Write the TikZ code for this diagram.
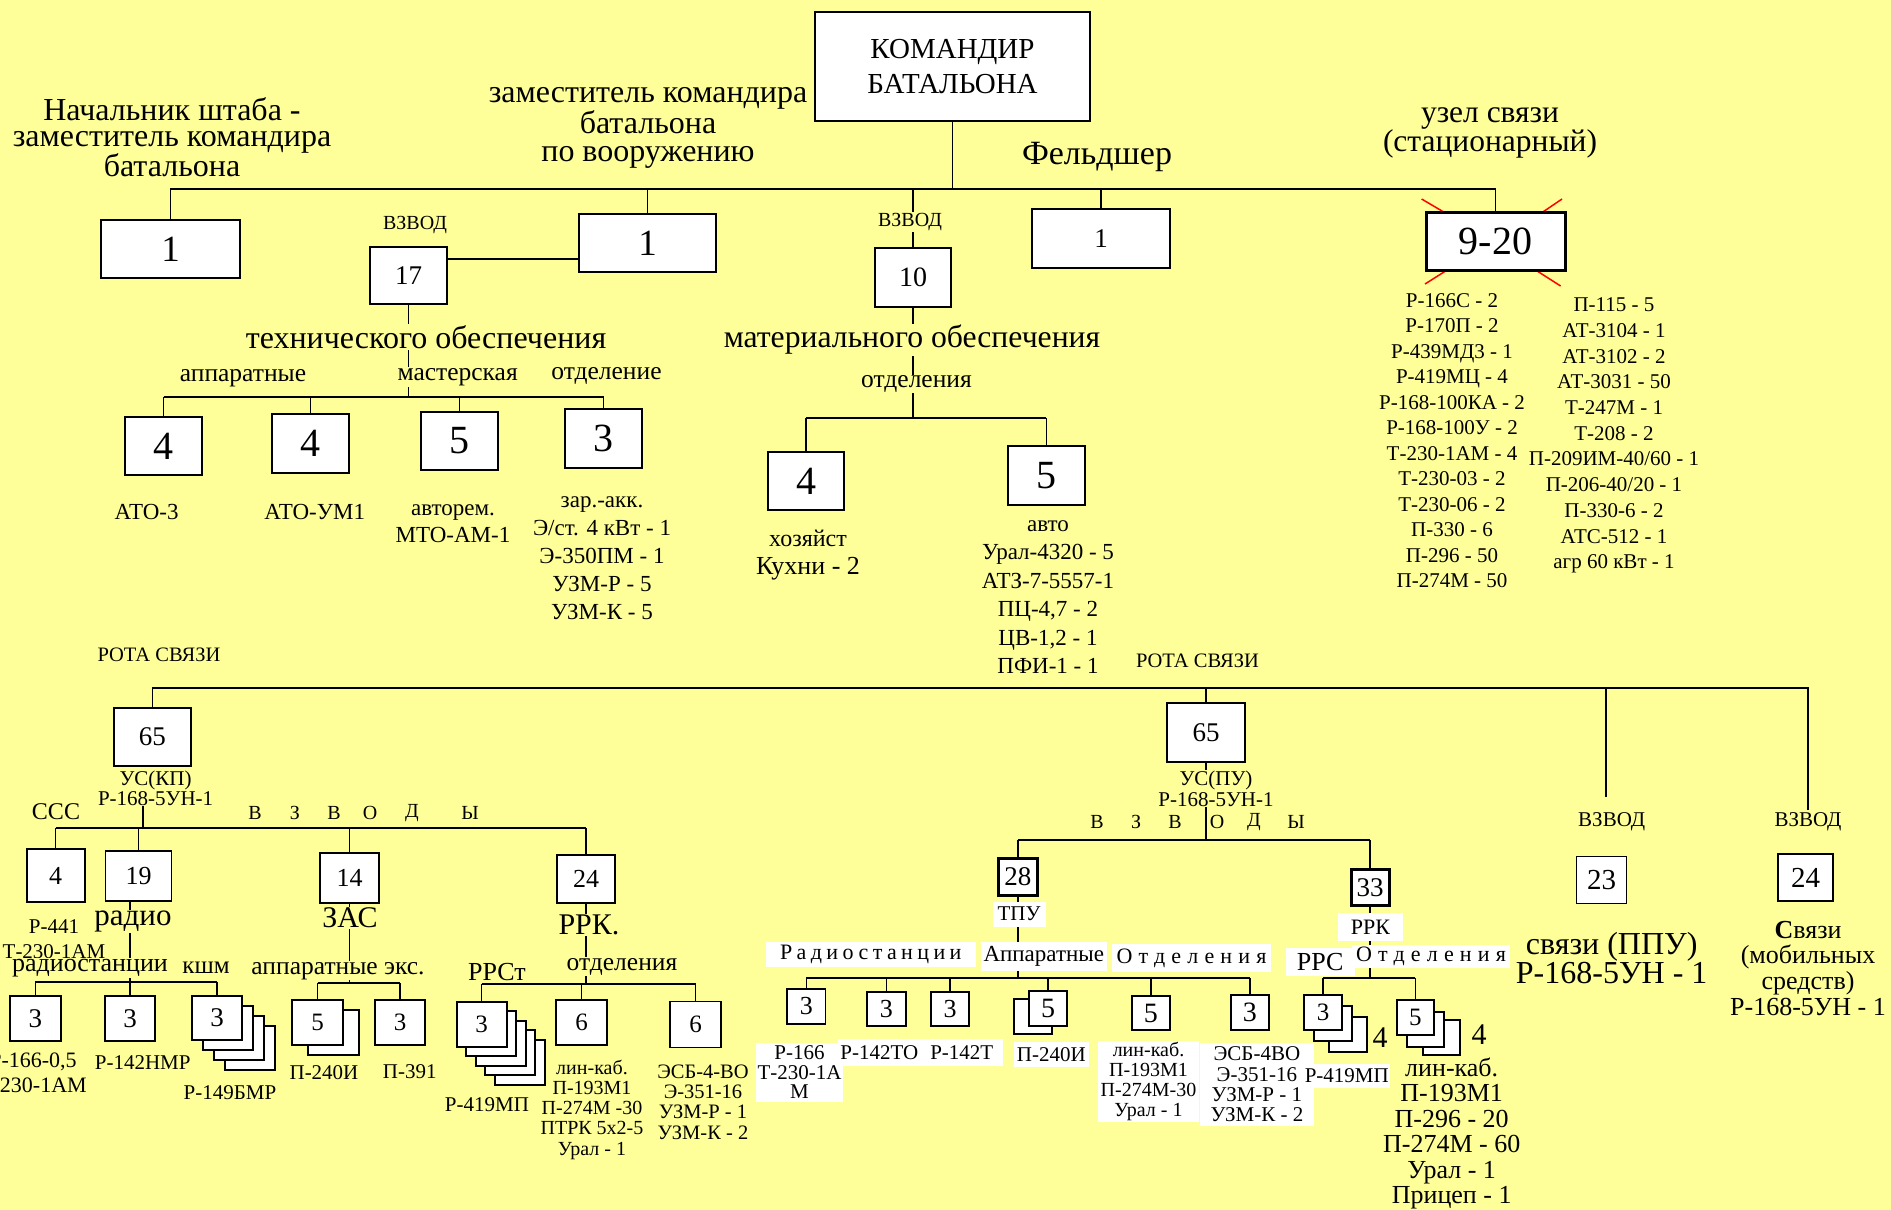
\documentclass[tikz,border=0pt]{standalone}
\usepackage{fontspec}
\setmainfont{Liberation Serif}
\newfontfamily\radfont[LetterSpace=20]{Liberation Serif}
\newfontfamily\otdfont[LetterSpace=28]{Liberation Serif}
\usetikzlibrary{positioning}
\definecolor{sfondo}{RGB}{255,255,153}

\begin{document}
\begin{tikzpicture}[x=1pt,y=-1pt,line width=1.6pt]

% definizione degli stili
\tikzset{fnt/.style 2 args={font=\fontsize{#1}{#2}\selectfont}}
\tikzset{mybox/.style={rectangle,draw,fill=white,line width=1.8pt,inner sep=0pt,align=center}}
\tikzset{wh/.style 2 args={minimum width=#1pt,minimum height=#2pt}}
\tikzset{testo/.style={inner sep=0pt,align=center}}
\tikzset{sopra/.style={testo,fill=sfondo,inner sep=1pt}}
\tikzset{bianco/.style={testo,fill=white}}

% sfondo
\fill[sfondo] (0,0) rectangle (1891,1210);
\useasboundingbox (0,0) rectangle (1891,1210);

% segni rossi dietro il nodo
\draw[red,line width=1.5pt] (1421.6,199) -- (1450.5,216);
\draw[red,line width=1.5pt] (1562,199) -- (1534,218);
\draw[red,line width=1.5pt] (1453.5,266) -- (1425,284);
\draw[red,line width=1.5pt] (1534,269) -- (1560.6,286);

% comandante e primo livello
\node[mybox,wh={275}{109},fnt={29}{35}] (cmd) at (952.5,66.5) {КОМАНДИР\\БАТАЛЬОНА};
\node[mybox,wh={139}{58},fnt={37}{37}] (nsh) at (170.5,249) {1};
\node[mybox,wh={137}{58},fnt={37}{37}] (zamv) at (647.5,243) {1};
\node[mybox,wh={138}{59},fnt={27}{27}] (feld) at (1101,238.5) {1};
\node[mybox,wh={139}{58},fnt={40}{40},line width=3pt] (uzel) at (1495.5,241) {9-20};
\node[mybox,wh={77}{57},fnt={27}{27}] (vto) at (408.5,275.5) {17};
\node[mybox,wh={76}{59},fnt={28}{28}] (vmo) at (913,277.5) {10};

\coordinate (bus1) at (170.5,189);
\draw (nsh.north) -- (bus1) -- (uzel.north |- bus1) -- (uzel.north);
\draw (cmd.south) -- (cmd.south |- bus1);
\foreach \n in {zamv,vmo,feld}
\draw (\n.north) -- (\n.north |- bus1);
\draw ([yshift=16.5pt]vto.east) -- ([yshift=16.5pt]vto.east -| zamv.west);

\node[testo,fnt={32}{25.5}] (nshtxt) at (172,137.5) {Начальник штаба -\\заместитель командира\\батальона};
\node[testo,fnt={32}{28.5}] (zamtxt) at (648,128) {заместитель командира\\батальона\\по вооружению};
\node[testo,fnt={34}{34}] (feldtxt) at (1097,157) {Фельдшер};
\node[testo,fnt={31.5}{29}] (uzeltxt) at (1490,132.5) {узел связи\\(стационарный)};
\node[testo,fnt={20}{20}] (vzv1) at (415,225) {ВЗВОД};
\node[sopra,fnt={20}{20}] (vzv2) at (910,222) {ВЗВОД};

% взвод технического обеспечения
\node[mybox,wh={77}{58},fnt={40}{40}] (t1) at (163.5,446) {4};
\node[mybox,wh={77}{59},fnt={40}{40}] (t2) at (310.5,443.5) {4};
\node[mybox,wh={77}{58},fnt={40}{40}] (t3) at (459.5,441) {5};
\node[mybox,wh={77}{59},fnt={40}{40}] (t4) at (603.5,438.5) {3};
\coordinate (bus2) at (408.5,397);
\draw (vto.south) -- (bus2);
\node[sopra,fnt={32}{32}] (tolab) at (426,337) {технического обеспечения};
\node[sopra,fnt={25.5}{25.5}] (mast) at (457.6,377) {мастерская};
\node[testo,fnt={25.5}{25.5}] (apl) at (243,378) {аппаратные};
\node[testo,fnt={25.5}{25.5}] (otdl) at (606.5,376) {отделение};
\draw (t1.north |- bus2) -- (t4.north |- bus2);
\foreach \n in {t1,t2,t3,t4}
\draw (\n.north) -- (\n.north |- bus2);

\node[testo,fnt={23}{23}] (ato3) at (146.6,512) {АТО-3};
\node[testo,fnt={23}{23}] (atoum) at (314.7,512) {АТО-УМ1};
\node[testo,fnt={23}{27}] (mto) at (453,523.5) {авторем.\\МТО-АМ-1};
\node[testo,fnt={23}{28}] (zar) at (602,558) {зар.-акк.\\Э/ст. 4 кВт - 1\\Э-350ПМ - 1\\УЗМ-Р - 5\\УЗМ-К - 5};

% взвод материального обеспечения
\node[mybox,wh={76}{58},fnt={40}{40}] (m1) at (806,481) {4};
\node[mybox,wh={77}{59},fnt={40}{40}] (m2) at (1046.3,475.5) {5};
\coordinate (bus3) at (913,418);
\draw (vmo.south) -- (bus3);
\node[sopra,fnt={31.7}{31.7}] (molab) at (912,340) {материального обеспечения};
\node[sopra,fnt={25.5}{25.5}] (motd) at (916.5,384) {отделения};
\draw (m1.north |- bus3) -- (m2.north |- bus3);
\foreach \n in {m1,m2}
\draw (\n.north) -- (\n.north |- bus3);
\node[testo,fnt={24}{24}] (hoz) at (808,538) {хозяйст};
\node[testo,fnt={26}{26}] (kuh) at (808,569) {Кухни - 2};
\node[testo,fnt={23}{28.4}] (avto) at (1048,597) {авто\\Урал-4320 - 5\\АТЗ-7-5557-1\\ПЦ-4,7 - 2\\ЦВ-1,2 - 1\\ПФИ-1 - 1};

% средства узла связи
\node[testo,fnt={21}{25.5}] (lista1) at (1452,440.5) {Р-166С - 2\\Р-170П - 2\\Р-439МД3 - 1\\Р-419МЦ - 4\\Р-168-100КА - 2\\Р-168-100У - 2\\Т-230-1АМ - 4\\Т-230-03 - 2\\Т-230-06 - 2\\П-330 - 6\\П-296 - 50\\П-274М - 50};
\node[testo,fnt={21}{25.7}] (lista2) at (1614,435.5) {П-115 - 5\\АТ-3104 - 1\\АТ-3102 - 2\\АТ-3031 - 50\\Т-247М - 1\\Т-208 - 2\\П-209ИМ-40/60 - 1\\П-206-40/20 - 1\\П-330-6 - 2\\АТС-512 - 1\\агр 60 кВт - 1};

% роты связи
\node[testo,fnt={20.5}{20.5}] (rota1) at (159,655) {РОТА СВЯЗИ};
\node[testo,fnt={20.5}{20.5}] (rota2) at (1197.5,661) {РОТА СВЯЗИ};
\node[mybox,wh={77}{58},fnt={27}{27}] (r1) at (152.4,737) {65};
\node[mybox,wh={78}{59},fnt={27}{27}] (r2) at (1206,732.5) {65};
\coordinate (bus4) at (152.4,688);
\coordinate (v23) at (1606,797);
\coordinate (v24) at (1808,810);
\draw (r1.north) -- (bus4) -- (v24 |- bus4) -- (v24);
\draw (r2.north) -- (r2.north |- bus4);
\draw (v23 |- bus4) -- (v23);

% УС(КП)
\node[testo,fnt={21}{17}] (uskp) at (155.6,788.5) {УС(КП)\\Р-168-5УН-1};
\coordinate (bus5) at (143,827.7);
\draw (bus5 |- uskp.south) -- (bus5);
\node[mybox,wh={58}{53},fnt={26}{26}] (c1) at (55.6,875.5) {4};
\node[mybox,wh={66}{50},fnt={26}{26}] (c2) at (138.5,875.7) {19};
\node[mybox,wh={59}{50},fnt={26}{26}] (c3) at (349.5,878) {14};
\node[mybox,wh={58}{48},fnt={26}{26}] (c4) at (586,879) {24};
\draw (c1.north |- bus5) -- (c4.north |- bus5);
\foreach \n in {c1,c2,c3,c4}
\draw (\n.north) -- (\n.north |- bus5);
\node[testo,fnt={24}{24}] (sss) at (56,812) {ССС};
\foreach \x/\l in {255/В,295/З,334/В,370/О,412/Д,470/Ы}
\node[testo,fnt={20}{20}] (vza\x) at (\x,813) {\l};
\node[testo,fnt={21}{25}] (r441) at (54,939.2) {Р-441\\Т-230-1АМ};

% радио
\node[mybox,wh={51}{45},fnt={27}{27}] (k1) at (35.3,1018.3) {3};
\node[mybox,wh={50}{45},fnt={27}{27}] (k2) at (130,1018.3) {3};
\foreach \i in {3,2,1}
\node[mybox,wh={50}{44}] (k3s\i) at (217+11*\i,1018+10*\i) {};
\node[mybox,wh={50}{44},fnt={27}{27}] (k3) at (217,1018) {3};
\coordinate (bus6) at (130,982);
\draw (bus6 |- c2.south) -- (bus6);
\node[sopra,fnt={31}{31}] (radio) at (133,921.7) {радио};
\node[sopra,fnt={26}{26}] (radst1) at (90,968) {радиостанции};
\node[testo,fnt={25}{25}] (kshm) at (206,968) {кшм};
\draw (k1.north |- bus6) -- (k3.north |- bus6);
\foreach \n in {k1,k2,k3}
\draw (\n.north) -- (\n.north |- bus6);
\node[testo,fnt={22}{25}] (r166) at (33,1072.5) {Р-166-0,5\\Т-230-1АМ};
\node[testo,fnt={21}{21}] (r142) at (142.7,1062.7) {Р-142НМР};
\node[testo,fnt={21}{21}] (r149) at (230,1092.7) {Р-149БМР};

% ЗАС
\node[mybox,wh={51}{45}] (z1s) at (333.5,1032.5) {};
\node[mybox,wh={51}{45},fnt={25}{25}] (z1) at (317.5,1022.5) {5};
\node[mybox,wh={50}{45},fnt={25}{25}] (z2) at (400,1022.5) {3};
\coordinate (bus7) at (350,983);
\draw (c3.south) -- (c3.south |- bus7);
\node[sopra,fnt={30}{30}] (zas) at (350,918) {ЗАС};
\node[sopra,fnt={25.5}{25.5}] (zasap) at (338,970.7) {аппаратные экс.};
\draw (z1.north |- bus7) -- (z2.north |- bus7);
\foreach \n in {z1,z2}
\draw (\n.north) -- (\n.north |- bus7);
\node[testo,fnt={21}{21}] (p240) at (324,1073) {П-240И};
\node[testo,fnt={21}{21}] (p391) at (409.7,1071.7) {П-391};

% РРК
\foreach \i in {4,3,2,1}
\node[mybox,wh={50}{45}] (s1s\i) at (481.6+9.5*\i,1024.2+9.5*\i) {};
\node[mybox,wh={50}{45},fnt={25}{25}] (s1) at (481.6,1024.2) {3};
\node[mybox,wh={51}{45},fnt={25}{25}] (s2) at (581.5,1022.5) {6};
\node[mybox,wh={51}{46},fnt={25}{25}] (s3) at (695.5,1024.5) {6};
\coordinate (bus8) at (581,984);
\draw (c4.south) -- (c4.south |- bus8);
\node[sopra,fnt={30}{30}] (rrk1) at (589,925) {РРК.};
\node[testo,fnt={26}{26}] (rrst) at (497,971.7) {РРСт};
\node[sopra,fnt={25.5}{25.5}] (rotd) at (622,966.7) {отделения};
\draw (s1.north |- bus8) -- (s3.north |- bus8);
\foreach \n in {s1,s2,s3}
\draw (\n.north) -- (\n.north |- bus8);
\node[testo,fnt={21}{21}] (r419a) at (487,1105) {Р-419МП};
\node[testo,fnt={20}{20.25}] (link1) at (592,1109.5) {лин-каб.\\П-193М1\\П-274М -30\\ПТРК 5х2-5\\Урал - 1};
\node[testo,fnt={20.5}{20.3}] (esb1) at (703,1102) {ЭСБ-4-ВО\\Э-351-16\\УЗМ-Р - 1\\УЗМ-К - 2};

% УС(ПУ)
\coordinate (bus9) at (1206,840);
\draw (r2.south) -- (bus9);
\node[sopra,fnt={21}{21}] (uspu) at (1216,788.5) {УС(ПУ)\\Р-168-5УН-1};
\foreach \x/\l in {1097/В,1136/З,1175/В,1217/О,1254/Д,1296/Ы}
\node[testo,fnt={20}{20}] (vzb\x) at (\x,821.7) {\l};
\node[mybox,wh={38.5}{36.3},fnt={27}{27},line width=3pt] (p1) at (1017.8,877) {28};
\node[mybox,wh={38}{36.7},fnt={27}{27},line width=3pt] (p2) at (1370,887.4) {33};
\draw (p1.north |- bus9) -- (p2.north |- bus9);
\foreach \n in {p1,p2}
\draw (\n.north) -- (\n.north |- bus9);

% ТПУ
\coordinate (bus10) at (1018,978);
\draw (p1.south) -- (p1.south |- bus10);
\node[bianco,wh={53}{25},fnt={21}{21}] (tpu) at (1019,914) {ТПУ};
\node[bianco,wh={209.5}{25.6},fnt={22}{22}] (radst2) at (870.8,954.5) {\radfont Радиостанции};
\node[bianco,wh={126.4}{29},fnt={23}{23}] (appar) at (1043.8,956.2) {Аппаратные};
\node[bianco,wh={159}{28},fnt={22}{22}] (otd1) at (1191.5,958) {\otdfont Отделения};
\node[mybox,wh={38.5}{35},fnt={26}{26}] (q1) at (806.3,1006.5) {3};
\node[mybox,wh={38.6}{34},fnt={26}{26}] (q2) at (886.3,1009) {3};
\node[mybox,wh={38}{34},fnt={26}{26}] (q3) at (950,1009) {3};
\node[mybox,wh={38}{35.3}] (q4s) at (1032.8,1016.7) {};
\node[mybox,wh={38}{35.3},fnt={28}{28}] (q4) at (1048,1008.4) {5};
\node[mybox,wh={38.4}{34},fnt={28}{28}] (q5) at (1150.8,1013) {5};
\node[mybox,wh={38.4}{35},fnt={28}{28}] (q6) at (1249.8,1012.5) {3};
\draw (q1.north |- bus10) -- (q6.north |- bus10);
\foreach \n in {q1,q2,q3,q4,q5,q6}
\draw (\n.north) -- (\n.north |- bus10);
\node[bianco,wh={87}{59},fnt={21}{19.5}] (w1) at (799.5,1072.2) {Р-166\\Т-230-1А\\М};
\node[bianco,wh={83.2}{26.7},fnt={21}{21}] (w2) at (879.4,1052.4) {Р-142ТО};
\node[bianco,wh={81.5}{26.7},fnt={21}{21}] (w3) at (961.8,1052.4) {Р-142Т};
\node[bianco,wh={75}{25.6},fnt={21}{21}] (w4) at (1051.4,1054.5) {П-240И};
\node[bianco,wh={101}{81.3},fnt={20}{20}] (w5) at (1148.5,1081.4) {лин-каб.\\П-193М1\\П-274М-30\\Урал - 1};
\node[bianco,wh={113.8}{83},fnt={21}{20.3}] (w6) at (1256.9,1084.5) {ЭСБ-4ВО\\Э-351-16\\УЗМ-Р - 1\\УЗМ-К - 2};
\node[bianco,wh={86.4}{24},fnt={21}{21}] (w7) at (1346.8,1076) {Р-419МП};

% РРК (ПУ)
\coordinate (bus11) at (1368,977.7);
\draw (p2.south) -- (p2.south |- bus11);
\node[bianco,wh={65.3}{28},fnt={22}{22}] (rrk2) at (1370.4,927) {РРК};
\node[bianco,wh={69}{28},fnt={26}{26}] (rrs) at (1320.2,962) {РРС};
\node[bianco,wh={158}{23.3},fnt={22}{22}] (otd2) at (1431,956.7) {\otdfont Отделения};
\foreach \dx/\dy in {25/22,10/11}
\node[mybox,wh={38}{35}] (u1s\dx) at (1323+\dx,1012.5+\dy) {};
\node[mybox,wh={38}{35},fnt={25}{25}] (u1) at (1323,1012.5) {3};
\foreach \dx/\dy in {26/20,10/12}
\node[mybox,wh={37.3}{35}] (u2s\dx) at (1415.4+\dx,1017.5+\dy) {};
\node[mybox,wh={37.3}{35},fnt={25}{25}] (u2) at (1415.4,1017.5) {5};
\draw (u1.north |- bus11) -- (u2.north |- bus11);
\foreach \n in {u1,u2}
\draw (\n.north) -- (\n.north |- bus11);
\node[testo,fnt={30}{30}] (u1n) at (1380,1038) {4};
\node[testo,fnt={30}{30}] (u2n) at (1479,1035) {4};
\node[testo,fnt={26}{25.4}] (link2) at (1451.7,1133.5) {лин-каб.\\П-193М1\\П-296 - 20\\П-274М - 60\\Урал - 1\\Прицеп - 1};

% взводы связи
\node[testo,fnt={21}{21}] (vzv3) at (1611.7,821.7) {ВЗВОД};
\node[testo,fnt={21}{21}] (vzv4) at (1808,821.7) {ВЗВОД};
\node[mybox,wh={50}{46.6},fnt={29}{29},line width=1.5pt] (v1) at (1601.7,880) {23};
\node[mybox,wh={55}{46.7},fnt={29}{29},line width=1.5pt] (v2) at (1805.5,877.4) {24};
\node[testo,fnt={32}{29.7}] (ppu) at (1611.7,958) {связи (ППУ)\\Р-168-5УН - 1};
\node[testo,fnt={26}{25.6}] (mob) at (1808,968.3) {{\bfseries С}вязи\\(мобильных\\средств)\\Р-168-5УН - 1};

\end{tikzpicture}
\end{document}
